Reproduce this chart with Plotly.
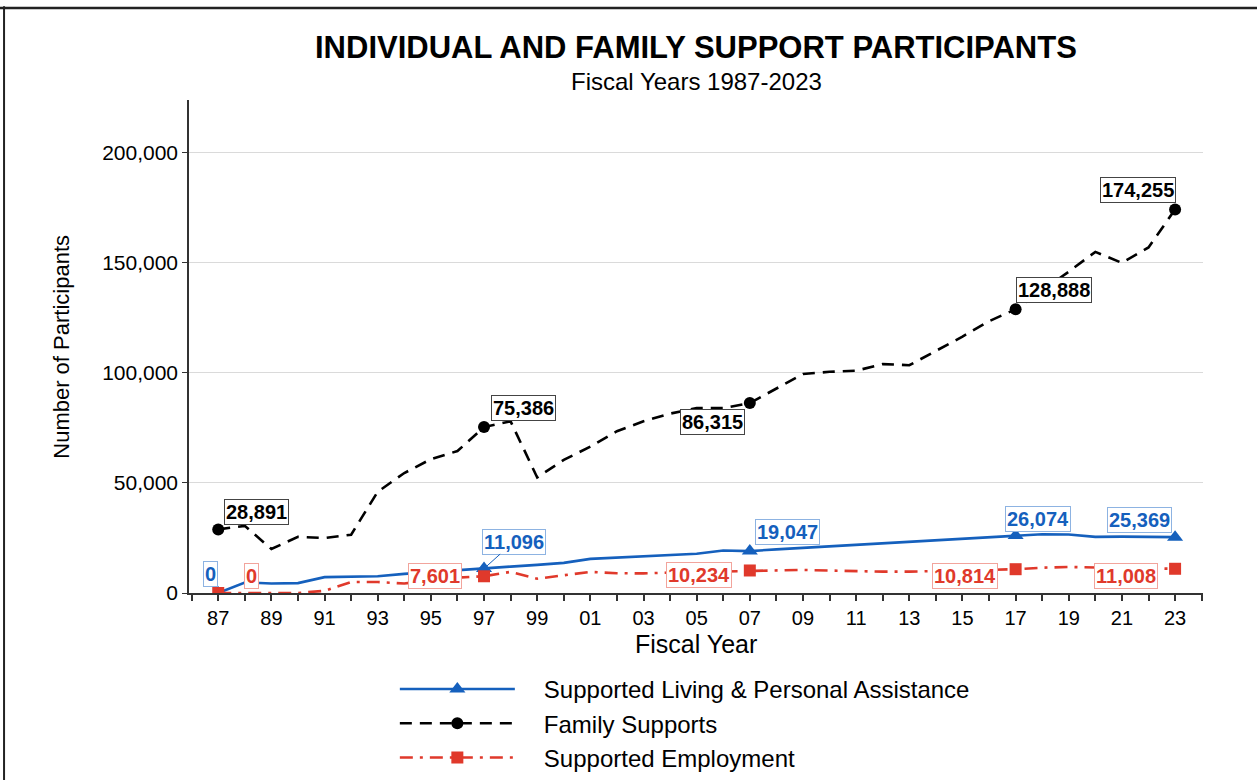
import plotly.graph_objects as go

# ---------------- data ----------------
years = list(range(1987, 2024))
tick_years = list(range(1987, 2024, 2))
tick_labels = ["87", "89", "91", "93", "95", "97", "99", "01", "03", "05", "07",
               "09", "11", "13", "15", "17", "19", "21", "23"]

series_names = ["Supported Living & Personal Assistance", "Family Supports", "Supported Employment"]

living = [0, 4800, 4300, 4500, 7200, 7400, 7600, 8700, 9600, 10300, 11096,
          12000, 12800, 13700, 15500, 16000, 16600, 17100, 17800, 19300, 19047,
          19800, 20500, 21300, 22000, 22700, 23400, 24000, 24800, 25500, 26074,
          26700, 26600, 25500, 25600, 25500, 25369]

family = [28891, 30500, 20000, 25500, 25000, 26500, 46000, 54500, 60800, 64500, 75386,
          78000, 52500, 60500, 66500, 73500, 78000, 81500, 84000, 84000, 86315,
          93000, 99500, 100500, 101000, 104000, 103500, 110000, 116500, 123500, 128888,
          137500, 146000, 155000, 150000, 157000, 174255]

employment = [0, 0, 0, 0, 1000, 5000, 5000, 4300, 5800, 7000, 7601,
              9600, 6500, 8000, 9600, 9000, 8900, 9300, 9600, 9900, 10234,
              10400, 10500, 10200, 9800, 9700, 9700, 10000, 10300, 10600, 10814,
              11500, 11800, 11600, 11300, 11200, 11008]

labeled_years = [1987, 1997, 2007, 2017, 2023]

# ---------------- style ----------------
BLUE = "#1560BD"
BLACK = "#000000"
RED = "#E0392B"
FONT = "Arial, Liberation Sans, sans-serif"

styles = {
    "living": dict(color=BLUE, dash="solid", symbol="triangle-up", msize=14),
    "family": dict(color=BLACK, dash="12px,8px", symbol="circle", msize=12),
    "employment": dict(color=RED, dash="13px,7px,3px,7px", symbol="square", msize=12),
}

fig = go.Figure()

order = [("living", living, series_names[0]),
         ("family", family, series_names[1]),
         ("employment", employment, series_names[2])]

for key, vals, name in [order[1], order[0], order[2]]:
    st = styles[key]
    fig.add_trace(go.Scatter(
        x=years, y=vals, mode="lines", name=name, showlegend=False,
        line=dict(color=st["color"], width=2.6, dash=st["dash"]),
        hoverinfo="x+y",
    ))
    mx = [y for y in years if y in labeled_years]
    my = [v for y, v in zip(years, vals) if y in labeled_years]
    fig.add_trace(go.Scatter(
        x=mx, y=my, mode="markers", showlegend=False,
        marker=dict(color=st["color"], symbol=st["symbol"], size=st["msize"]),
    ))

# legend entries
for key, vals, name in order:
    st = styles[key]
    fig.add_trace(go.Scatter(
        x=[None], y=[None], mode="lines+markers", name="\u2003" + name,
        line=dict(color=st["color"], width=2.6, dash=st["dash"]),
        marker=dict(color=st["color"], symbol=st["symbol"], size=st["msize"]),
    ))

# ---------------- point labels ----------------
label_specs = {
    "family": dict(vals=family, color=BLACK, border="#444444",
                   shifts=[(38, 17), (39, 19), (-37, -19), (38, 19), (-37, 19)]),
    "living": dict(vals=living, color=BLUE, border="#8DB3E2",
                   shifts=[(-8, 19), None, (38, 19), (22, 17), (-36, 17)]),
    "employment": dict(vals=employment, color=RED, border="#F2A49C",
                       shifts=[(33, 17), (-49, 0), (-51, -5), (-51, -7), (-49, -7)]),
}

annotations = []
for key, spec in label_specs.items():
    for i, yr in enumerate(labeled_years):
        v = spec["vals"][years.index(yr)]
        common = dict(x=yr, y=v, xref="x", yref="y", text=f"<b>{v:,}</b>",
                      font=dict(family=FONT, size=20, color=spec["color"]),
                      bgcolor="white", bordercolor=spec["border"], borderwidth=1,
                      borderpad=1)
        sh = spec["shifts"][i]
        if sh is None:
            annotations.append(dict(**common, showarrow=True, arrowhead=0,
                                    arrowwidth=1, arrowcolor=spec["color"],
                                    ax=30, ay=-27, standoff=2))
        else:
            annotations.append(dict(**common, showarrow=False,
                                    xshift=sh[0], yshift=sh[1]))

# titles
annotations += [
    dict(text="<b>INDIVIDUAL AND FAMILY SUPPORT PARTICIPANTS</b>", x=0.5, y=1.1055,
         xref="paper", yref="paper", showarrow=False, xanchor="center", yanchor="middle",
         font=dict(family=FONT, size=31, color="black")),
    dict(text="Fiscal Years 1987-2023", x=0.5, y=1.0385,
         xref="paper", yref="paper", showarrow=False, xanchor="center", yanchor="middle",
         font=dict(family=FONT, size=24, color="black")),
    dict(text="Fiscal Year", x=0.5, y=-0.1034,
         xref="paper", yref="paper", showarrow=False, xanchor="center", yanchor="middle",
         font=dict(family=FONT, size=25, color="black")),
    dict(text="Number of Participants", x=-0.126, y=0.5, textangle=-90,
         xref="paper", yref="paper", showarrow=False, xanchor="center", yanchor="middle",
         font=dict(family=FONT, size=22, color="black")),
]

fig.update_layout(
    width=1257, height=780,
    margin=dict(l=189, r=54, t=100, b=187, autoexpand=False),
    paper_bgcolor="white", plot_bgcolor="white",
    font=dict(family=FONT, color="black"),
    annotations=annotations,
    showlegend=True,
    legend=dict(x=0.203, y=-0.150, xanchor="left", yanchor="top",
                orientation="v", itemwidth=115,
                font=dict(family=FONT, size=24, color="black"),
                bgcolor="rgba(0,0,0,0)", tracegroupgap=0),
    shapes=[
        dict(type="line", xref="paper", yref="paper", x0=-0.19, x1=1.06,
             y0=1.1866, y1=1.1866, line=dict(color="#222222", width=2.5)),
        dict(type="line", xref="paper", yref="paper", x0=-0.1824, x1=-0.1824,
             y0=1.19, y1=-0.45, line=dict(color="#222222", width=2)),
    ],
)

fig.update_xaxes(
    range=[1985.9, 2024.05], tickvals=tick_years, ticktext=tick_labels,
    ticks="outside", ticklen=6, tickwidth=1.5, tickcolor="#333333",
    tickfont=dict(family=FONT, size=20, color="black"),
    showline=True, linecolor="#333333", linewidth=1.5, showgrid=False, zeroline=False,
    minor=dict(dtick=1, tick0=1987, ticks="outside", ticklen=6, tickwidth=1.5,
               tickcolor="#333333", showgrid=False),
)
fig.update_yaxes(
    range=[0, 224000], tickvals=[0, 50000, 100000, 150000, 200000],
    tickformat=",", ticks="outside", ticklen=5, tickwidth=1.2, tickcolor="#333333",
    tickfont=dict(family=FONT, size=21, color="black"),
    showline=True, linecolor="#333333", linewidth=1.5,
    showgrid=True, gridcolor="#DADADA", gridwidth=1, zeroline=False,
)

fig.write_html("out.html", config={"displayModeBar": False},
               post_script="document.body.style.margin='0px';")
